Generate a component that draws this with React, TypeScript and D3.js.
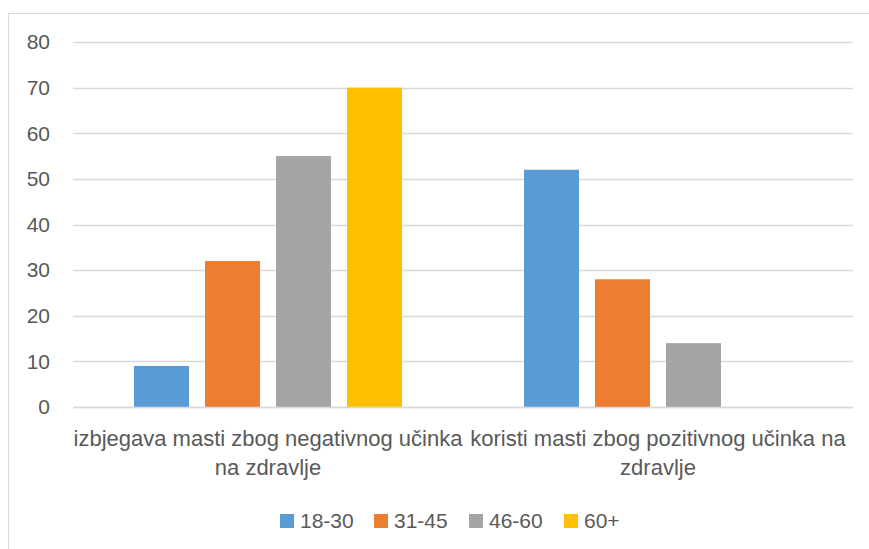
import React, { useEffect, useRef } from "react";
import * as d3 from "d3";

const categories = [
  ["izbjegava masti zbog negativnog učinka", "na zdravlje"],
  ["koristi masti zbog pozitivnog učinka na", "zdravlje"],
];
const seriesNames = ["18-30", "31-45", "46-60", "60+"];
const seriesColors = ["#5b9bd5", "#ed7d31", "#a5a5a5", "#ffc000"];
// values per series, one per category
const values = [
  [9, 52],
  [32, 28],
  [55, 14],
  [70, 0],
];
const yTicks = [0, 10, 20, 30, 40, 50, 60, 70, 80];

const W = 869;
const H = 549;
const textColor = "#595959";
const font = "'Liberation Sans', Arial, sans-serif";

export default function App() {
  const ref = useRef<SVGSVGElement | null>(null);

  useEffect(() => {
    const svg = d3.select(ref.current);
    svg.selectAll("*").remove();

    const margin = { left: 73, right: 16, top: 42, plotBottom: 407 };

    // chart frame (cut off at right/bottom like the screenshot)
    svg
      .append("rect")
      .attr("x", 8.5)
      .attr("y", 13.5)
      .attr("width", W)
      .attr("height", H)
      .attr("fill", "#fff")
      .attr("stroke", "#d9d9d9")
      .attr("stroke-width", 1);

    const x0 = d3
      .scaleBand<number>()
      .domain(categories.map((_, i) => i))
      .range([margin.left, W - margin.right])
      .padding(0);

    const x1 = d3
      .scaleBand<number>()
      .domain(seriesNames.map((_, i) => i))
      .range([61, x0.bandwidth() - 61])
      .paddingInner(0.225)
      .paddingOuter(0);

    const y = d3.scaleLinear().domain([0, 80]).range([margin.plotBottom, margin.top]);

    // gridlines
    svg
      .append("g")
      .selectAll("line")
      .data(yTicks)
      .enter()
      .append("line")
      .attr("x1", margin.left)
      .attr("x2", W - margin.right)
      .attr("y1", (d) => Math.round(y(d)) + 0.5)
      .attr("y2", (d) => Math.round(y(d)) + 0.5)
      .attr("stroke", "#d9d9d9")
      .attr("stroke-width", 1.5);

    // y tick labels
    svg
      .append("g")
      .selectAll("text")
      .data(yTicks)
      .enter()
      .append("text")
      .attr("x", 50)
      .attr("y", (d) => y(d))
      .attr("dy", "0.35em")
      .attr("text-anchor", "end")
      .attr("fill", textColor)
      .style("font-family", font)
      .style("font-size", "21px")
      .text((d) => d);

    // bars
    const groups = svg
      .append("g")
      .selectAll("g")
      .data(categories.map((_, i) => i))
      .enter()
      .append("g")
      .attr("transform", (i) => `translate(${x0(i)},0)`);

    groups
      .selectAll("rect")
      .data((ci) => values.map((s, si) => ({ si, v: s[ci] })))
      .enter()
      .append("rect")
      .attr("x", (d) => x1(d.si)!)
      .attr("width", x1.bandwidth())
      .attr("y", (d) => y(d.v))
      .attr("height", (d) => y(0) - y(d.v))
      .attr("fill", (d) => seriesColors[d.si]);

    // zero line on top
    svg
      .append("line")
      .attr("x1", margin.left)
      .attr("x2", W - margin.right)
      .attr("y1", Math.round(y(0)) + 0.5)
      .attr("y2", Math.round(y(0)) + 0.5)
      .attr("stroke", "#d9d9d9")
      .attr("stroke-width", 1.5);

    // category labels
    const labels = svg
      .append("g")
      .selectAll("text")
      .data(categories)
      .enter()
      .append("text")
      .attr("text-anchor", "middle")
      .attr("fill", textColor)
      .style("font-family", font)
      .style("font-size", "22px");

    labels
      .selectAll("tspan")
      .data((d, i) => d.map((line) => ({ line, i })))
      .enter()
      .append("tspan")
      .attr("x", (d) => x0(d.i)! + x0.bandwidth() / 2)
      .attr("y", (_, li) => 446 + li * 29)
      .text((d) => d.line);

    // legend
    const legendX = [280, 374, 469, 564];
    const legend = svg
      .append("g")
      .selectAll("g")
      .data(seriesNames)
      .enter()
      .append("g")
      .attr("transform", (_, i) => `translate(${legendX[i]},0)`);
    legend
      .append("rect")
      .attr("x", 0)
      .attr("y", 514)
      .attr("width", 14)
      .attr("height", 14)
      .attr("fill", (_, i) => seriesColors[i]);
    legend
      .append("text")
      .attr("x", 20)
      .attr("y", 528)
      .attr("fill", textColor)
      .style("font-family", font)
      .style("font-size", "21px")
      .text((d) => d);
  }, []);

  return (
    <svg
      ref={ref}
      width={W}
      height={H}
      style={{ position: "absolute", left: 0, top: 0, background: "#fff" }}
    />
  );
}
